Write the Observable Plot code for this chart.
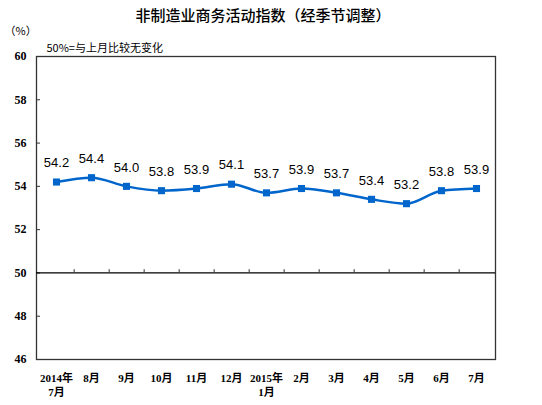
<!DOCTYPE html>
<html><head><meta charset="utf-8">
<script src="https://cdn.jsdelivr.net/npm/d3@7"></script>
<script src="https://cdn.jsdelivr.net/npm/@observablehq/plot@0.6"></script>
<style>body{margin:0;background:#fff}</style>
</head><body><div id="chart"></div>
<script>
const months = ["2014年\n7月","8月","9月","10月","11月","12月","2015年\n1月","2月","3月","4月","5月","6月","7月"];
const values = [54.2,54.4,54.0,53.8,53.9,54.1,53.7,53.9,53.7,53.4,53.2,53.8,53.9];
const yTicks = [46,48,50,52,54,56,58,60];
const title = "非制造业商务活动指数（经季节调整）";
const unit = "（%）";
const note = "50%=与上月比较无变化";

const data = months.map((m,i)=>({month:m, value:values[i]}));
const W = 542, H = 405, mL = 36, mR = 47, mT = 56, mB = 46;
const step = (W - mL - mR) / months.length;
const blue = "#0066cc";
const serif = "'Liberation Serif','Noto Sans CJK SC',serif";

const plot = Plot.plot({
  width: W, height: H,
  marginLeft: mL, marginRight: mR, marginTop: mT, marginBottom: mB,
  style: {fontFamily: serif, fontSize: "12px", color: "#000", background: "#fff"},
  x: {type: "point", domain: months, padding: 0.5, label: null},
  y: {domain: [46,60], label: null},
  marks: [
    Plot.frame({stroke: "#333", strokeWidth: 1.3}),
    Plot.axisY({ticks: yTicks, tickSize: 0, tickPadding: 10, fontSize: 12, fontWeight: "bold", label: null}),
    Plot.ruleY(yTicks.filter(t => t > 46 && t < 60), {stroke: "#333", insetRight: (W - mL - mR) - 4}),
    Plot.axisX({tickSize: 0, tickPadding: 13, fontSize: 11, fontWeight: "bold", lineHeight: 1.25, label: null}),
    Plot.ruleY([50], {stroke: "#000", strokeWidth: 1.2}),
    Plot.ruleX(months.slice(0, -1), {x: d => d, y1: 50, y2: 50.15, dx: step / 2, stroke: "#333"}),
    Plot.line(data, {x: "month", y: "value", stroke: blue, strokeWidth: 2.5, curve: "monotone-x"}),
    Plot.dot(data, {x: "month", y: "value", symbol: "square", r: 4, fill: blue, stroke: null}),
    Plot.text(data, {x: "month", y: "value", text: d => d.value.toFixed(1), dy: -19, fontSize: 13, fontFamily: "'Liberation Sans',Arial,sans-serif", fill: "#000"}),
    Plot.text([title], {frameAnchor: "top", dy: -46, dx: -3, fontSize: 15, fontWeight: 500, fontFamily: "'Noto Sans CJK SC',sans-serif", fill: "#000"}),
    Plot.text([unit], {frameAnchor: "top-left", dx: -32, dy: -29, fontSize: 11, fontFamily: "'Noto Sans CJK SC',sans-serif", textAnchor: "start", fill: "#000"}),
    Plot.text([note], {frameAnchor: "top-left", dx: 10, dy: -12, fontSize: 11, fontFamily: "'Noto Sans CJK SC',sans-serif", textAnchor: "start", fill: "#000"})
  ]
});
document.getElementById("chart").append(plot);
</script>
</body></html>
